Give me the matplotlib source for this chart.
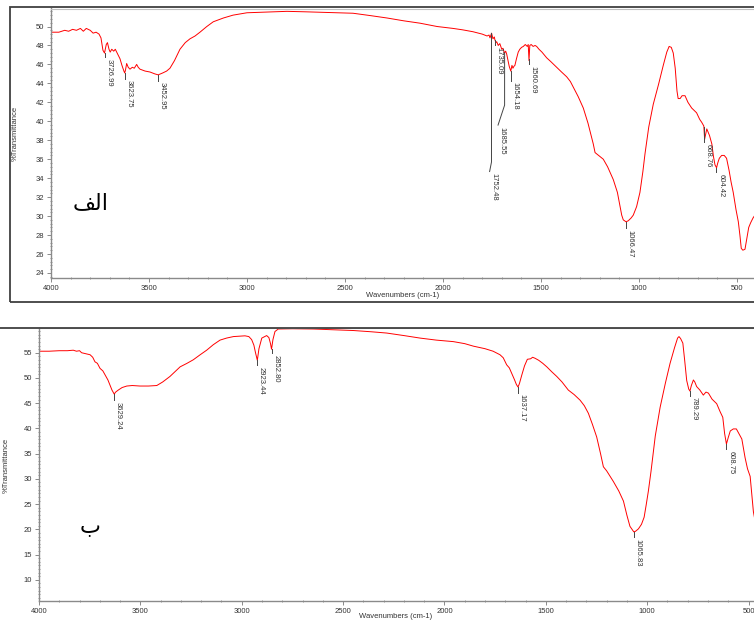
import matplotlib
matplotlib.use("Agg")
import matplotlib.pyplot as plt
import numpy as np
from matplotlib.ticker import MultipleLocator, AutoMinorLocator
from matplotlib.patches import Rectangle
from matplotlib.lines import Line2D

# spectrum (a) - wavenumber / %T
wn_a = [4000, 3960, 3930, 3910, 3890, 3870, 3850, 3835, 3820, 3800, 3785, 3770,
        3755, 3745, 3735, 3727, 3718, 3712, 3704, 3698, 3690, 3680, 3672, 3660,
        3648, 3638, 3628, 3624, 3620, 3614, 3606, 3597, 3585, 3575, 3563, 3555,
        3546, 3520, 3495, 3470, 3453, 3430, 3410, 3393, 3370, 3342, 3315, 3291,
        3265, 3240, 3205, 3172, 3120, 3071, 3000, 2934, 2870, 2796, 2700, 2628,
        2540, 2459, 2370, 2286, 2200, 2117, 2030, 1949, 1900, 1847, 1800, 1775,
        1765, 1760, 1752, 1745, 1738, 1735, 1730, 1726, 1718, 1710, 1700, 1694,
        1686, 1680, 1675, 1668, 1662, 1654, 1648, 1643, 1638, 1633, 1625, 1616,
        1608, 1599, 1590, 1580, 1570, 1565, 1561, 1557, 1550, 1540, 1530, 1522,
        1510, 1495, 1471, 1450, 1420, 1395, 1369, 1350, 1335, 1310, 1284, 1260,
        1233, 1224, 1200, 1182, 1160, 1131, 1110, 1097, 1088, 1080, 1066, 1055,
        1040, 1029, 1012, 995, 980, 969, 950, 927, 900, 876, 858, 846, 835, 825,
        815, 806, 800, 790, 780, 765, 750, 731, 716, 706, 690, 680, 672, 669,
        665, 654, 640, 628, 620, 612, 604, 598, 590, 578, 565, 553, 540, 530,
        519, 505, 493, 485, 478, 470, 459, 450, 440, 430, 418, 405]
t_a = [49.4, 49.4, 49.6, 49.5, 49.7, 49.6, 49.8, 49.5, 49.8, 49.6, 49.3, 49.4,
       49.2, 48.8, 47.5, 47.2, 48.1, 48.3, 47.6, 47.3, 47.6, 47.4, 47.6, 47.1,
       46.6, 45.9, 45.3, 45.1, 45.4, 46.1, 45.7, 45.5, 45.7, 45.6, 46.0, 45.7,
       45.5, 45.3, 45.2, 45.0, 44.9, 45.1, 45.3, 45.6, 46.4, 47.6, 48.3, 48.7,
       49.0, 49.4, 50.0, 50.5, 50.9, 51.2, 51.45, 51.5, 51.55, 51.6, 51.55, 51.5,
       51.45, 51.4, 51.15, 50.9, 50.6, 50.35, 50.0, 49.8, 49.65, 49.45, 49.2, 49.0,
       49.1, 48.8, 49.3, 48.7, 48.9, 48.6, 48.3, 48.4, 48.0, 48.2, 47.6, 47.7,
       47.2, 47.4, 47.1, 46.4, 45.8, 45.3, 45.9, 45.6, 45.8, 45.9, 46.6, 47.3,
       47.6, 47.8, 47.9, 48.1, 47.9, 48.1, 46.4, 48.0, 48.1, 47.9, 48.0, 47.9,
       47.6, 47.3, 46.7, 46.3, 45.7, 45.2, 44.7, 44.2, 43.6, 42.6, 41.4, 39.8,
       37.6, 36.7, 36.3, 36.0, 35.2, 33.85, 32.5, 31.1, 30.1, 29.6, 29.4, 29.5,
       29.8, 30.1, 31.0, 32.5, 34.7, 36.6, 39.4, 41.8, 43.9, 45.9, 47.3, 47.9, 47.8, 47.2,
       45.6, 43.2, 42.4, 42.4, 42.7, 42.7, 42.0, 41.4, 41.1, 40.9, 40.2, 39.9, 39.6, 39.5,
       38.1, 39.2, 38.5, 37.6, 36.3, 35.4, 35.1, 35.6, 36.1, 36.4, 36.4, 36.1, 34.8, 33.6,
       32.5, 30.7, 29.4, 28.0, 26.6, 26.4, 26.5, 27.6, 28.8, 29.3, 29.8, 30.2]

# spectrum (b)
wn_b = [4000, 3950, 3900, 3860, 3831, 3815, 3800, 3790, 3770, 3748, 3735, 3724,
        3712, 3699, 3685, 3674, 3660, 3650, 3640, 3629, 3622, 3609, 3590, 3567,
        3540, 3502, 3460, 3419, 3390, 3354, 3325, 3304, 3270, 3239, 3205, 3173,
        3140, 3107, 3075, 3041, 2984, 2965, 2951, 2940, 2932, 2923, 2915, 2901,
        2877, 2866, 2858, 2853, 2846, 2836, 2820, 2750, 2647, 2550, 2449, 2360,
        2285, 2200, 2120, 2040, 1956, 1900, 1857, 1800, 1760, 1726, 1710, 1693,
        1680, 1668, 1655, 1645, 1637, 1630, 1619, 1605, 1591, 1575, 1565, 1553,
        1535, 1515, 1495, 1470, 1446, 1420, 1389, 1360, 1331, 1310, 1290, 1270,
        1249, 1230, 1216, 1200, 1167, 1140, 1117, 1100, 1085, 1066, 1058, 1043,
        1028, 1015, 1005, 994, 981, 960, 936, 910, 887, 865, 850, 843, 835, 824,
        815, 805, 795, 789, 782, 772, 765, 756, 740, 723, 710, 698, 680, 657,
        640, 627, 618, 609, 600, 590, 575, 560, 545, 533, 517, 505, 492, 476, 460]
t_b = [55.3, 55.3, 55.4, 55.4, 55.5, 55.3, 55.4, 55.0, 54.8, 54.6, 54.1, 53.2,
       52.9, 51.9, 51.4, 50.6, 49.6, 48.6, 47.6, 46.8, 47.2, 47.6, 48.1, 48.4,
       48.5, 48.4, 48.4, 48.5, 49.2, 50.3, 51.4, 52.2, 52.9, 53.6, 54.6, 55.5,
       56.6, 57.5, 57.9, 58.2, 58.35, 58.2, 57.6, 56.5, 55.0, 53.5, 55.8, 57.9,
       58.4, 58.0, 56.8, 55.7, 57.6, 59.2, 59.7, 59.75, 59.7, 59.55, 59.4, 59.15,
       58.9, 58.4, 57.9, 57.5, 57.2, 56.8, 56.3, 55.8, 55.3, 54.6, 54.0, 52.6,
       52.0, 50.9, 49.7, 48.7, 48.2, 48.9, 50.5, 52.4, 53.7, 53.8, 54.1, 53.9,
       53.5, 52.9, 52.2, 51.2, 50.3, 49.2, 47.6, 46.7, 45.6, 44.5, 43.0, 40.8,
       38.3, 35.0, 32.4, 31.6, 29.5, 27.6, 25.6, 22.8, 20.6, 19.5, 19.6, 20.1,
       21.0, 22.4, 24.8, 27.6, 31.5, 38.5, 44.2, 49.0, 52.9, 56.0, 57.9, 58.2, 57.8, 56.9,
       53.5, 49.5, 47.8, 47.4, 48.5, 49.6, 49.2, 48.3, 47.6, 46.6, 47.2, 47.0, 45.8, 44.9,
       43.3, 42.2, 39.0, 36.9, 38.2, 39.5, 39.9, 39.9, 38.8, 37.9, 34.2, 32.0, 30.5, 23.5, 20.0]

peaks_a = ["3726.99", "3623.75", "3452.95", "1752.48", "1735.09", "1685.55",
           "1654.18", "1560.69", "1066.47", "668.76", "604.42"]
peaks_b = ["3629.24", "2923.44", "2852.80", "1637.17", "1065.83", "789.29", "608.75"]

# where each leader tick ends (label sits below it)
end_a = [46.8, 44.5, 44.3, 34.7, 48.0, 39.6, 44.3, 46.0, 28.7, 37.8, 34.6]
end_b = [45.6, 52.5, 54.9, 47.1, 18.4, 46.5, 35.9]
# leaders that bend sideways before the label: (bend y, shifted wavenumber)
bend_a = {"1752.48": (35.7, 1762), "1685.55": (41.7, 1719)}

W, H = 754, 623
fig = plt.figure(figsize=(W / 100, H / 100), dpi=100)


def fx(px):
    return px / W


def fy(py):
    return 1 - py / H


TXT = "#333333"
SP = "#8a8a8a"
lab_font = dict(family="Liberation Sans", fontsize=5.5, color=TXT)


def style(ax, ymajor, yminor_n):
    ax.xaxis.set_major_locator(MultipleLocator(500))
    ax.xaxis.set_minor_locator(MultipleLocator(100))
    ax.yaxis.set_major_locator(MultipleLocator(ymajor))
    ax.yaxis.set_minor_locator(AutoMinorLocator(yminor_n))
    for s in ["left", "bottom"]:
        ax.spines[s].set_color(SP)
        ax.spines[s].set_linewidth(1.0)
    ax.spines["right"].set_visible(False)
    ax.spines["top"].set_color("#c0c0c0")
    ax.spines["top"].set_linewidth(0.8)
    ax.tick_params(which="major", direction="out", length=3, width=0.7,
                   color=SP, labelsize=5.5, labelcolor=TXT, pad=2)
    ax.tick_params(which="minor", direction="inout", length=2, width=0.6, color=SP)
    for lb in ax.get_xticklabels() + ax.get_yticklabels():
        lb.set_family("Liberation Sans")
    ax.set_xlabel("Wavenumbers (cm-1)", fontsize=5.5, color=TXT,
                  family="Liberation Sans", va="center")
    ax.set_ylabel("%Transmittance", fontsize=5.5, color=TXT,
                  family="Liberation Sans", va="center")


def mark(ax, wn, T, label, y_end, bend=None):
    w = float(label)
    y0 = np.interp(w, wn[::-1], T[::-1])
    xs, ys = [w, w], [y0, y_end]
    lx = w
    if bend is not None:
        xs, ys = [w, w, bend[1]], [y0, bend[0], y_end]
        lx = bend[1]
    ax.plot(xs, ys, color="#444444", lw=0.7)
    ax.annotate(label, xy=(lx, y_end), xytext=(3.0, -1.2), textcoords="offset points",
                rotation=270, ha="center", va="top", **lab_font)


# top panel frame
fig.add_artist(Rectangle((fx(10), fy(302)), 1.2, fy(7) - fy(302), transform=fig.transFigure,
                         fill=False, ec="#404040", lw=1.3, clip_on=False))
fig.add_artist(Line2D([0, 1], [fy(328), fy(328)], transform=fig.transFigure,
                      color="#404040", lw=1.3))

ax1 = fig.add_axes([fx(51), fy(277.7), fx(W - 51), fy(8.5) - fy(277.7)])
wa, ta = np.array(wn_a, float), np.array(t_a, float)
ax1.plot(wa, ta, color="red", lw=0.7)
ax1.set_xlim(4000, 413)
ax1.set_ylim(23.5, 51.9)
style(ax1, 2, 5)
ax1.xaxis.set_label_coords(0.50, -0.067)
ax1.yaxis.set_label_coords(-0.051, 0.536)
for lab, ye in zip(peaks_a, end_a):
    mark(ax1, wa, ta, lab, ye, bend_a.get(lab))
ax1.text(3800, 31.4, "\uFED2\uFEDF\uFE8D", family="DejaVu Sans", fontsize=16,
         ha="center", va="center", color="black")

ax2 = fig.add_axes([fx(39), fy(601), fx(W - 39), fy(328) - fy(601)])
wb, tb = np.array(wn_b, float), np.array(t_b, float)
ax2.plot(wb, tb, color="red", lw=0.7)
ax2.set_xlim(4000, 473)
ax2.set_ylim(5.8, 59.9)
style(ax2, 5, 7)
ax2.xaxis.set_label_coords(0.498, -0.058)
ax2.yaxis.set_label_coords(-0.046, 0.495)
for lab, ye in zip(peaks_b, end_b):
    mark(ax2, wb, tb, lab, ye)
ax2.text(3750, 20.5, "\u0628", family="DejaVu Sans", fontsize=16,
         ha="center", va="center", color="black")

fig.savefig("out.png", dpi=100)
